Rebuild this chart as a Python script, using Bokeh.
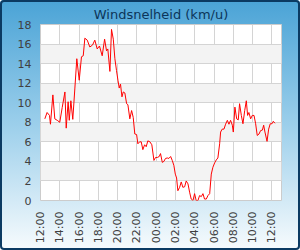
from bokeh.plotting import figure
from bokeh.models import Range1d, FixedTicker
from bokeh.embed import file_html
from bokeh.resources import INLINE

# minutes after 12:00 (day 1)
minutes = [27, 41, 56, 62, 77, 89, 104, 120, 135, 152, 160, 172, 179, 189, 201, 214,
           226, 241, 255, 266, 276, 291, 307, 324, 338, 353, 367, 384, 399, 411, 419,
           432, 442, 453, 463, 473, 482, 490, 498, 507, 515, 525, 536, 544, 556, 567,
           577, 587, 598, 606, 617, 627, 637, 648, 658, 668, 681, 693, 706, 716, 727,
           739, 747, 758, 768, 778, 789, 799, 810, 820, 830, 839, 847, 855, 866, 876,
           886, 897, 907, 918, 928, 938, 949, 959, 969, 980, 990, 1001, 1011, 1021,
           1032, 1042, 1053, 1063, 1073, 1084, 1094, 1104, 1115, 1121, 1131, 1142,
           1152, 1163, 1173, 1183, 1194, 1200, 1210, 1221, 1231, 1239, 1250, 1260,
           1271, 1281, 1289, 1297, 1308, 1318, 1329, 1339, 1349, 1360, 1370, 1381,
           1389, 1397, 1410, 1420, 1430, 1441, 1449, 1459]
speed = [8.35, 9.0, 8.7, 7.8, 10.8, 8.35, 8.2, 8.0, 9.5, 11.1, 7.4, 10.1, 8.2, 10.2, 8.3, 11.5,
         14.5, 12.3, 14.7, 14.8, 16.6, 16.4, 15.7, 15.9, 16.4, 15.5, 15.8, 14.8, 16.5, 15.3, 15.5,
         13.2, 17.5, 16.5, 14.5, 13.3, 12.3, 11.5, 11.9, 10.6, 11.1, 11.0, 9.9, 9.8, 8.35, 9.2,
         8.5, 6.8, 6.75, 5.8, 6.0, 6.0, 5.2, 5.7, 5.5, 6.1, 6.0, 5.7, 4.1, 4.4, 4.4,
         4.5, 4.8, 3.9, 4.0, 4.3, 4.35, 4.3, 4.5, 4.1, 3.6, 2.7, 2.3, 1.0, 1.35, 1.9,
         1.35, 1.4, 2.0, 1.7, 0.85, 0.15, 0.0, 0.7, 0.0, 0.0, 0.5, 0.4, 0.7, 0.15,
         0.15, 0.5, 0.7, 2.7, 3.4, 3.85, 4.15, 4.35, 5.8, 7.0, 7.3, 7.3,
         7.8, 8.2, 7.8, 8.2, 7.7, 7.0, 9.55, 8.35, 8.25, 9.9, 8.7, 7.85,
         9.2, 10.2, 8.7, 9.0, 8.35, 8.7, 8.7, 7.85, 6.65, 6.8, 7.15, 7.2,
         7.7, 7.0, 6.05, 7.3, 7.85, 7.85, 8.1, 7.9]

tick_minutes = [0, 120, 240, 360, 480, 600, 720, 840, 960, 1080, 1200, 1320, 1440]
tick_labels = ["12:00", "14:00", "16:00", "18:00", "20:00", "22:00", "00:00",
               "02:00", "04:00", "06:00", "08:00", "10:00", "12:00"]
y_ticks = [0, 2, 4, 6, 8, 10, 12, 14, 16, 18]

p = figure(width=300, height=250, output_backend="svg", toolbar_location=None,
           x_range=Range1d(0, 1500), y_range=Range1d(0, 18),
           min_border_left=40, min_border_right=19, min_border_top=24, min_border_bottom=50,
           title="Windsnelheid (km/u)")
p.styles = {
    "background": "linear-gradient(to bottom, #4aa3d6 0%, #9ccfeb 50%, #f7fbfd 100%)",
    "border-radius": "4px",
    "box-shadow": "inset 0 0 0 2px #0b3a62",
}
p.border_fill_alpha = 0
p.background_fill_color = "#ffffff"
p.outline_line_color = "#cccccc"
p.outline_line_width = 1

p.title.align = "center"
p.title.text_font = "DejaVu Sans"
p.title.text_font_size = "13px"
p.title.text_font_style = "normal"
p.title.text_color = "#0c3559"
p.title.standoff = 6

p.line(minutes, speed, line_color="#ff0000", line_width=1)

p.xaxis.ticker = FixedTicker(ticks=tick_minutes)
p.xaxis.major_label_overrides = {m: l for m, l in zip(tick_minutes, tick_labels)}
p.xaxis.major_label_orientation = 1.5707963
p.yaxis.ticker = FixedTicker(ticks=y_ticks)

for ax in (p.xaxis, p.yaxis):
    ax.axis_line_color = None
    ax.major_tick_line_color = None
    ax.minor_tick_line_color = None
    ax.major_tick_out = 0
    ax.major_label_text_font = "DejaVu Sans"
    ax.major_label_text_font_size = "11px"
    ax.major_label_text_color = "#404040"
p.yaxis.major_label_standoff = 9
p.xaxis.major_label_standoff = 11

p.grid.grid_line_color = "#d4d4d4"
p.grid.grid_line_width = 1
p.ygrid.band_fill_color = "#f3f3f3"
p.ygrid.band_fill_alpha = 1

open("out.html", "w").write(file_html(p, INLINE))
